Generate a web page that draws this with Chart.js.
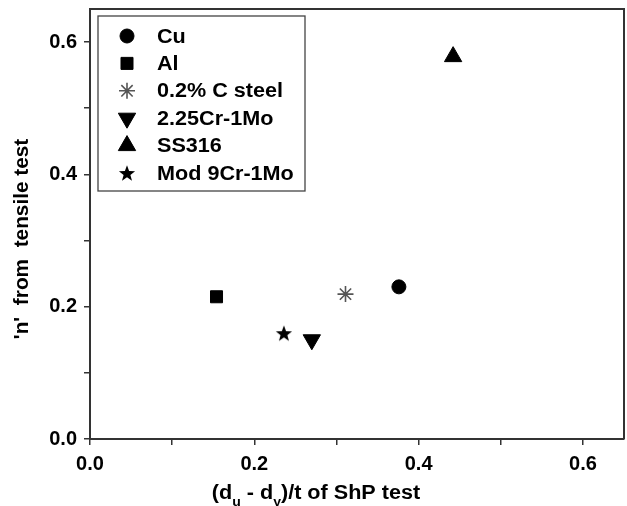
<!DOCTYPE html>
<html>
<head>
<meta charset="utf-8">
<script src="https://cdn.jsdelivr.net/npm/chart.js@4.4.1/dist/chart.umd.min.js"></script>
<style>
html,body{margin:0;padding:0;background:#fff;}
#wrap{width:627px;height:506px;}
</style>
</head>
<body>
<div id="wrap"><canvas id="c" width="627" height="506"></canvas></div>
<script>
// ---- data ----
const seriesNames = ['Cu', 'Al', '0.2% C steel', '2.25Cr-1Mo', 'SS316', 'Mod 9Cr-1Mo'];
const xValues = [0.376, 0.154, 0.311, 0.270, 0.442, 0.236];
const yValues = [0.230, 0.215, 0.219, 0.150, 0.578, 0.160];
const xTickLabels = ['0.0', '0.2', '0.4', '0.6'];
const yTickLabels = ['0.0', '0.2', '0.4', '0.6'];
const yTitle = "'n'  from  tensile test";
const xTitleParts = [['(d', false], ['u', true], [' - d', false], ['y', true], [')/t of ShP test', false]];

const FONT = "'Liberation Sans', Arial, Helvetica, sans-serif";

// filled five-pointed star as image point style
function makeStar(size) {
  const c = document.createElement('canvas');
  c.width = size; c.height = size;
  const g = c.getContext('2d');
  const cx = size / 2, cy = size / 2 + 0.8, R = size / 2 - 0.5, r = R * 0.42;
  g.beginPath();
  for (let i = 0; i < 10; i++) {
    const rad = (i % 2 === 0) ? R : r;
    const a = -Math.PI / 2 + i * Math.PI / 5;
    const px = cx + rad * Math.cos(a), py = cy + rad * Math.sin(a);
    if (i === 0) g.moveTo(px, py); else g.lineTo(px, py);
  }
  g.closePath();
  g.fillStyle = '#000';
  g.fill();
  return c;
}
const starImg = makeStar(18);

const styles = [
  {pointStyle: 'circle', radius: 7, rotation: 0, color: '#000', bw: 1},
  {pointStyle: 'rect', radius: 8.5, rotation: 0, color: '#000', bw: 1},
  {pointStyle: 'star', radius: 8, rotation: 0, color: '#555', bw: 1.6},
  {pointStyle: 'triangle', radius: 10, rotation: 180, color: '#000', bw: 1},
  {pointStyle: 'triangle', radius: 10, rotation: 0, color: '#000', bw: 1},
  {pointStyle: starImg, radius: 9, rotation: 0, color: '#000', bw: 1}
];

const datasets = seriesNames.map((name, i) => ({
  label: name,
  data: [{x: xValues[i], y: yValues[i]}],
  pointStyle: styles[i].pointStyle,
  pointRadius: styles[i].radius,
  pointHoverRadius: styles[i].radius,
  pointRotation: styles[i].rotation,
  backgroundColor: styles[i].color,
  borderColor: styles[i].color,
  pointBorderWidth: styles[i].bw,
  showLine: false
}));

function drawMarker(ctx, st, x, y) {
  if (Chart.helpers && Chart.helpers.drawPoint) {
    ctx.save();
    ctx.fillStyle = st.color;
    ctx.strokeStyle = st.color;
    ctx.lineWidth = st.bw;
    Chart.helpers.drawPoint(ctx, {pointStyle: st.pointStyle, radius: st.radius, rotation: st.rotation, borderWidth: st.bw}, x, y);
    ctx.restore();
  }
}

function stretchedText(ctx, text, x, y, sx) {
  ctx.save();
  ctx.translate(x, y);
  ctx.scale(sx, 1);
  ctx.fillText(text, 0, 0);
  ctx.restore();
}

const decor = {
  id: 'decor',
  afterDraw(chart) {
    const ctx = chart.ctx;
    const a = chart.chartArea;
    ctx.save();
    // top & right frame
    ctx.strokeStyle = '#333';
    ctx.lineWidth = 2;
    ctx.beginPath();
    ctx.moveTo(a.left, a.top);
    ctx.lineTo(a.right, a.top);
    ctx.lineTo(a.right, a.bottom);
    ctx.stroke();

    // legend box
    const lx = a.left + 8, ly = a.top + 7, lw = 207, lh = 175;
    ctx.lineWidth = 1.3;
    ctx.strokeStyle = '#444';
    ctx.strokeRect(lx, ly, lw, lh);
    ctx.font = 'bold 20px ' + FONT;
    ctx.textBaseline = 'middle';
    ctx.textAlign = 'left';
    seriesNames.forEach((name, i) => {
      const yy = ly + 20 + i * 27.4;
      drawMarker(ctx, styles[i], lx + 29, yy);
      ctx.fillStyle = '#000';
      stretchedText(ctx, name, lx + 59, yy + 1, 1.08);
    });

    // y title
    ctx.save();
    ctx.translate(28, 239);
    ctx.rotate(-Math.PI / 2);
    ctx.scale(1.04, 1);
    ctx.textAlign = 'center';
    ctx.textBaseline = 'alphabetic';
    ctx.font = 'bold 20px ' + FONT;
    ctx.fillStyle = '#000';
    ctx.fillText(yTitle, 0, 0);
    ctx.restore();

    // x title with subscripts
    const sx = 1.08;
    const mainFont = 'bold 20px ' + FONT;
    const subFont = 'bold 13px ' + FONT;
    let total = 0;
    xTitleParts.forEach(([t, sub]) => {
      ctx.font = sub ? subFont : mainFont;
      total += ctx.measureText(t).width * sx;
    });
    let x0 = 316 - total / 2;
    const base = 499;
    ctx.textAlign = 'left';
    ctx.textBaseline = 'alphabetic';
    ctx.fillStyle = '#000';
    xTitleParts.forEach(([t, sub]) => {
      ctx.font = sub ? subFont : mainFont;
      stretchedText(ctx, t, x0, sub ? base + 7 : base, sx);
      x0 += ctx.measureText(t).width * sx;
    });
    ctx.restore();
  }
};

function labelFor(list) {
  return function (v) {
    const s = v.toFixed(1);
    return list.includes(s) && Math.abs(Math.round(v * 10) % 2) === 0 ? s : '';
  };
}

new Chart(document.getElementById('c'), {
  type: 'scatter',
  data: {datasets},
  plugins: [decor],
  options: {
    responsive: false,
    animation: false,
    events: [],
    layout: {autoPadding: false, padding: {top: 9, right: 3, left: 0, bottom: 0}},
    plugins: {legend: {display: false}, tooltip: {enabled: false}},
    scales: {
      x: {
        type: 'linear', min: 0, max: 0.65,
        afterFit(s) { s.height = 67; s.paddingLeft = 0; s.paddingRight = 0; },
        afterBuildTicks(s) { s.ticks = s.ticks.filter(t => t.value <= 0.6001); },
        border: {color: '#333', width: 2},
        grid: {drawOnChartArea: false, drawTicks: true, tickLength: 6, color: '#333', lineWidth: 1.5},
        ticks: {stepSize: 0.1, includeBounds: false, autoSkip: false, maxRotation: 0, color: '#000', padding: 7,
          font: {family: FONT, size: 20, weight: 'bold'}, callback: labelFor(xTickLabels)}
      },
      y: {
        type: 'linear', min: 0, max: 0.65,
        afterFit(s) { s.width = 90; s.paddingTop = 0; s.paddingBottom = 0; },
        afterBuildTicks(s) { s.ticks = s.ticks.filter(t => t.value <= 0.6001); },
        border: {color: '#333', width: 2},
        grid: {drawOnChartArea: false, drawTicks: true, tickLength: 6, color: '#333', lineWidth: 1.5},
        ticks: {stepSize: 0.1, includeBounds: false, autoSkip: false, color: '#000', padding: 7,
          font: {family: FONT, size: 20, weight: 'bold'}, callback: labelFor(yTickLabels)}
      }
    }
  }
});
</script>
</body>
</html>
